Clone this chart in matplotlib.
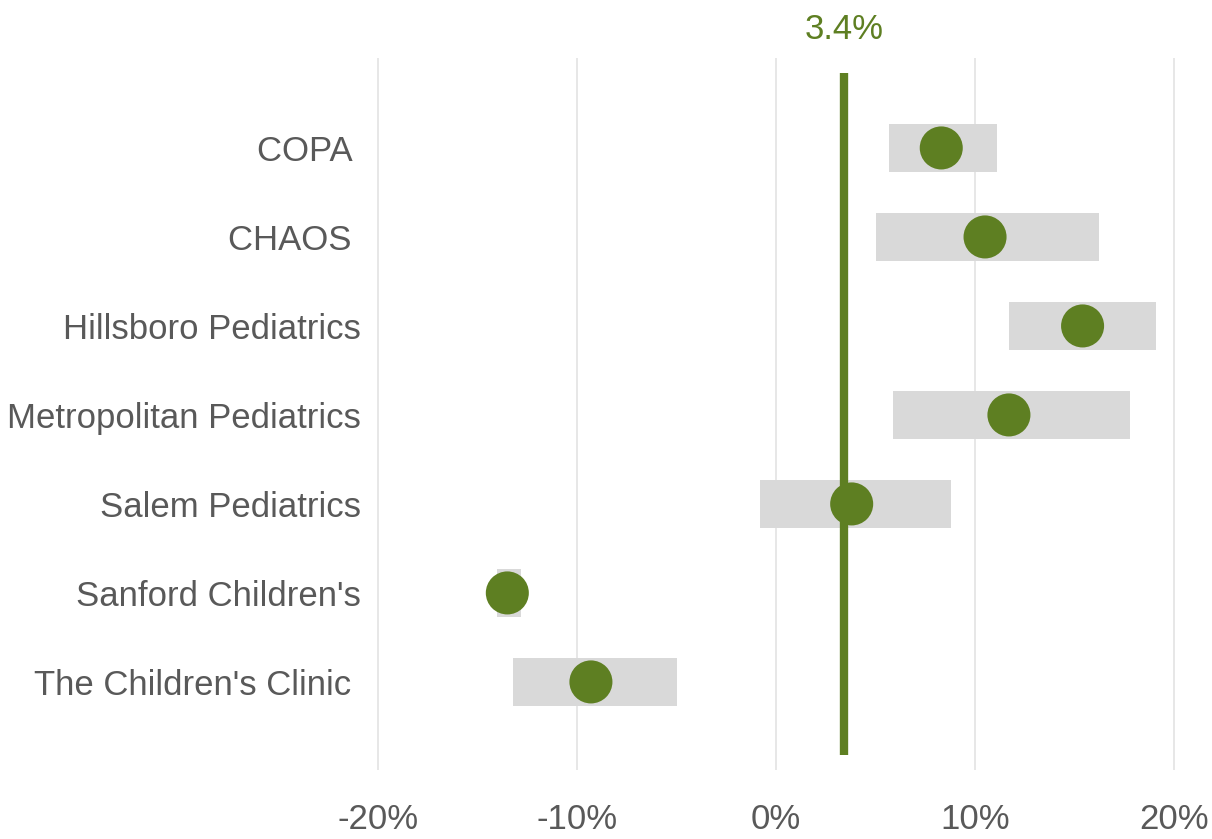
import numpy as np
import matplotlib
matplotlib.use('Agg')
import matplotlib.pyplot as plt
from matplotlib.ticker import FuncFormatter

plt.rcParams['font.family'] = ['Liberation Sans Narrow', 'Liberation Sans', 'DejaVu Sans']

# 데이터 (그림에서 읽은 값, %)
clinics = ['COPA ', 'CHAOS ', 'Hillsboro Pediatrics', 'Metropolitan Pediatrics',
           'Salem Pediatrics', "Sanford Children's", "The Children's Clinic "]
low = [5.7, 5.0, 11.7, 5.9, -0.8, -14.0, -13.2]
high = [11.1, 16.2, 19.1, 17.8, 8.8, -12.8, -5.0]
point = [8.3, 10.5, 15.4, 11.7, 3.8, -13.5, -9.3]
avg = 3.4
xticks = [-20, -10, 0, 10, 20]

green = '#5e7f22'
grey_bar = '#d9d9d9'
text_col = '#595959'

fig = plt.figure(figsize=(12.12, 8.39), dpi=100)
ax = fig.add_axes([0.3069, 0.0822, 0.6865, 0.8486])

ypos = np.arange(len(clinics))
low_a = np.array(low)
high_a = np.array(high)
ax.barh(ypos, high_a - low_a, left=low_a, height=0.54, color=grey_bar, zorder=2)

# 평균선
ax.plot([avg, avg], [-0.84, 6.82], color=green, lw=6, solid_capstyle='butt', zorder=3)
ax.text(avg, -1.14, f'{avg:.1f}%', color=green, fontsize=25, ha='center', va='bottom')

ax.scatter(point, ypos, s=960, color=green, zorder=4, edgecolors='none')

ax.set_xlim(-20.3, 21.5)
ax.set_ylim(6.99, -1.01)
ax.set_xticks(xticks)
ax.xaxis.set_major_formatter(FuncFormatter(lambda v, p: f'{v:.0f}%'))
ax.set_yticks(ypos)
ax.set_yticklabels(clinics)
ax.tick_params(axis='x', length=0, pad=24, labelsize=25, labelcolor=text_col)
ax.tick_params(axis='y', length=0, pad=8, labelsize=25, labelcolor=text_col)
ax.grid(axis='x', color='#e3e3e3', lw=1.2, zorder=0)
ax.set_axisbelow(True)
for s in ax.spines.values():
    s.set_visible(False)

fig.savefig('out.png', dpi=100)
